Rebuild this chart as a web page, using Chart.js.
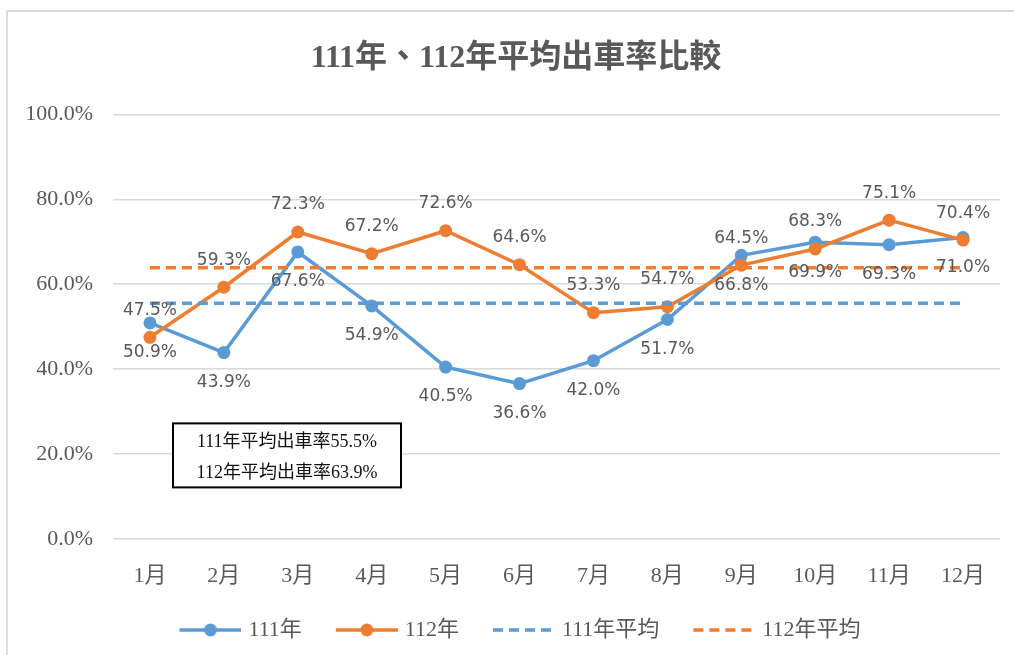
<!DOCTYPE html>
<html><head><meta charset="utf-8">
<script src="https://cdn.jsdelivr.net/npm/chart.js@4.4.0/dist/chart.umd.min.js"></script>
<style>
html,body{margin:0;padding:0;background:#fff;overflow:hidden;}
#wrap{position:relative;width:1014px;height:655px;overflow:hidden;}
#frame{position:absolute;left:6px;top:10px;width:1030px;height:680px;border-left:2px solid #dcdcdc;border-top:2px solid #dcdcdc;}
canvas{position:absolute;left:0;top:0;}
</style></head><body>
<div id="wrap"><div id="frame"></div><canvas id="c" width="1014" height="655"></canvas></div>
<script>
const months = ['1月','2月','3月','4月','5月','6月','7月','8月','9月','10月','11月','12月'];
const rate111 = [50.9,43.9,67.6,54.9,40.5,36.6,42.0,51.7,66.8,69.9,69.3,71.0];
const rate112 = [47.5,59.3,72.3,67.2,72.6,64.6,53.3,54.7,64.5,68.3,75.1,70.4];
const avg111 = [55.5,55.5,55.5,55.5,55.5,55.5,55.5,55.5,55.5,55.5,55.5,55.5];
const avg112 = [63.9,63.9,63.9,63.9,63.9,63.9,63.9,63.9,63.9,63.9,63.9,63.9];
const yTicks = [0,20,40,60,80,100];
const seriesNames = ['111年','112年','111年平均','112年平均'];
const titleText = '111年、112年平均出車率比較';
const noteLines = ['111年平均出車率55.5%','112年平均出車率63.9%'];

const BLUE = '#5B9BD5', ORANGE = '#ED7D31', GREY = '#595959';
const SERIF = '"Liberation Serif", "Noto Sans CJK TC", serif';

function legendIcon(color, dashed){
  const c = document.createElement('canvas'); c.width = 94; c.height = 16;
  const g = c.getContext('2d'); g.strokeStyle = color; g.lineWidth = 3.5;
  if (dashed) g.setLineDash([10,6]);
  g.beginPath(); g.moveTo(32,8); g.lineTo(94,8); g.stroke();
  if (!dashed){ g.fillStyle = color; g.beginPath(); g.arc(63,8,6.5,0,Math.PI*2); g.fill(); }
  return c;
}
const icons = [legendIcon(BLUE,false), legendIcon(ORANGE,false), legendIcon(BLUE,true), legendIcon(ORANGE,true)];

const valueLabels = {
  id:'valueLabels',
  afterDatasetsDraw(chart){
    const ctx = chart.ctx; ctx.save();
    ctx.font = '17px "DejaVu Sans"'; ctx.fillStyle = GREY;
    ctx.textAlign = 'center'; ctx.textBaseline = 'middle';
    [[0,30],[1,-27]].forEach(([di,off])=>{
      const meta = chart.getDatasetMeta(di);
      meta.data.forEach((pt,i)=>{
        ctx.fillText(chart.data.datasets[di].data[i].toFixed(1)+'%', pt.x, pt.y+off);
      });
    });
    ctx.restore();
  }
};

const noteBox = {
  id:'noteBox',
  afterDraw(chart){
    const a = chart.chartArea, ctx = chart.ctx;
    const x = a.left + 60, y = a.top + 309, w = 228, h = 64;
    ctx.save();
    ctx.fillStyle = '#fff'; ctx.fillRect(x,y,w,h);
    ctx.strokeStyle = '#000'; ctx.lineWidth = 2; ctx.strokeRect(x,y,w,h);
    ctx.fillStyle = '#111'; ctx.font = '18px ' + SERIF;
    ctx.textAlign = 'center'; ctx.textBaseline = 'middle';
    ctx.fillText(noteLines[0], x + w/2, y + 19);
    ctx.fillText(noteLines[1], x + w/2, y + 50);
    ctx.restore();
  }
};

const shiftBlocks = {
  id:'shiftBlocks',
  afterLayout(chart){
    if (chart.legend){ chart.legend.left -= 4; chart.legend.right -= 4; }
    if (chart.titleBlock){ chart.titleBlock.left += 6; chart.titleBlock.right += 6; }
  }
};

new Chart(document.getElementById('c'), {
  type:'line',
  data:{
    labels: months,
    datasets:[
      {label:seriesNames[0], data:rate111, borderColor:BLUE, backgroundColor:BLUE, borderWidth:3.5, pointRadius:6.5, pointHoverRadius:6.5, pointBorderWidth:0, tension:0, order:4},
      {label:seriesNames[1], data:rate112, borderColor:ORANGE, backgroundColor:ORANGE, borderWidth:3.5, pointRadius:6.5, pointHoverRadius:6.5, pointBorderWidth:0, tension:0, order:3},
      {label:seriesNames[2], data:avg111, borderColor:BLUE, borderWidth:3.5, borderDash:[10,6], pointRadius:0, tension:0, order:2},
      {label:seriesNames[3], data:avg112, borderColor:ORANGE, borderWidth:3.5, borderDash:[10,6], pointRadius:0, tension:0, order:1}
    ]
  },
  options:{
    responsive:false, animation:false, devicePixelRatio:1,
    layout:{padding:{left:20, right:14, top:10, bottom:4}},
    plugins:{
      title:{display:true, text:titleText, color:GREY, font:{family:SERIF, size:32, weight:'bold', lineHeight:1.2}, padding:{top:30, bottom:36}},
      legend:{position:'bottom', labels:{
        usePointStyle:true, pointStyleWidth:86, padding:6, color:GREY,
        font:{family:SERIF, size:22},
        generateLabels(chart){
          return chart.data.datasets.map((ds,i)=>({text:ds.label, pointStyle:icons[i], fillStyle:ds.borderColor, strokeStyle:ds.borderColor, lineWidth:0, hidden:false, datasetIndex:i, fontColor:GREY}));
        }
      }},
      tooltip:{enabled:false}
    },
    scales:{
      x:{offset:true, grid:{display:false, drawTicks:false}, border:{display:false},
         ticks:{color:GREY, padding:26, font:{family:SERIF, size:22, lineHeight:1}}},
      y:{min:0, max:100, afterFit(s){ s.width = 93; },
         afterBuildTicks(s){ s.ticks = yTicks.map(v=>({value:v})); },
         grid:{color:'#d9d9d9', lineWidth:1.5, drawTicks:false}, border:{display:false},
         ticks:{color:GREY, padding:20, font:{family:SERIF, size:22}, callback:v=>v.toFixed(1)+'%'}}
    }
  },
  plugins:[valueLabels, noteBox, shiftBlocks]
});
</script>
</body></html>
